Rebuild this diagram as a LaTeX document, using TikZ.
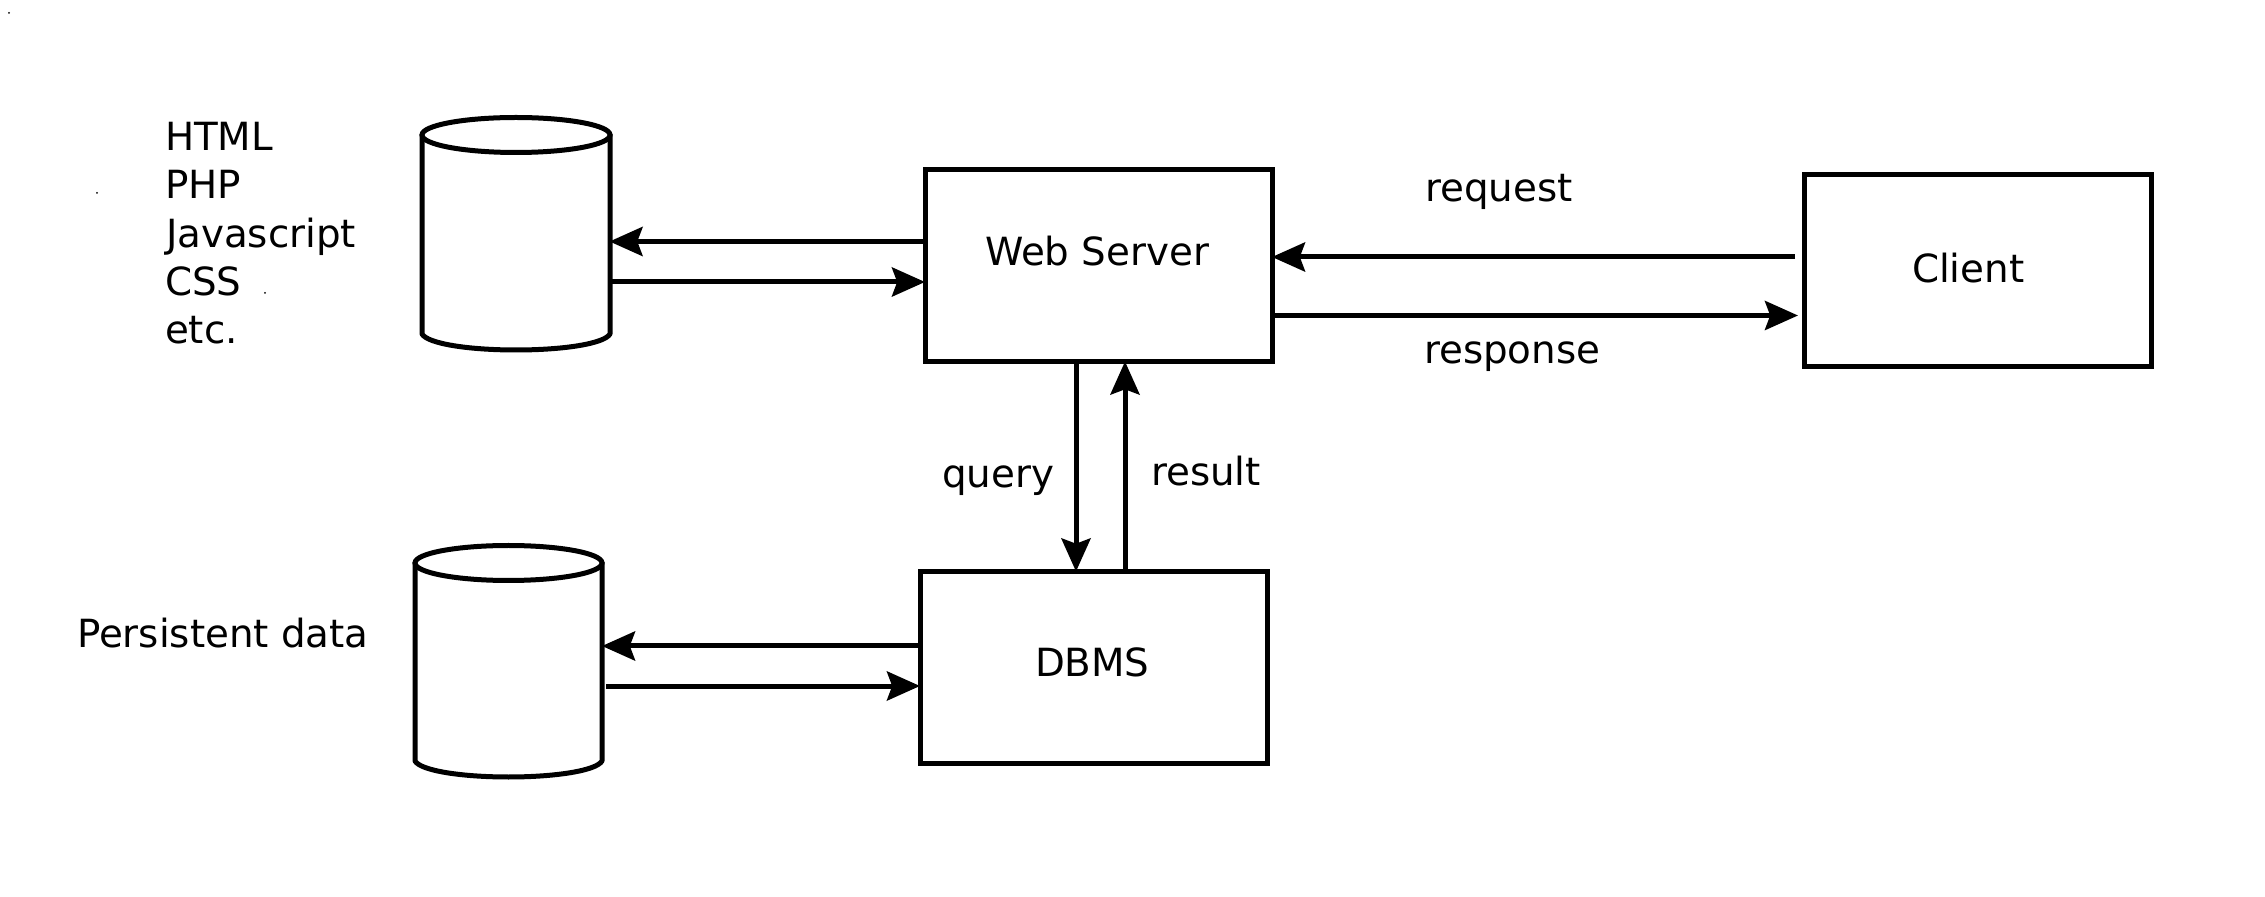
\documentclass[tikz,border=0pt]{standalone}
\usepackage{fontspec}
\setmainfont{DejaVu Sans}
\usetikzlibrary{arrows.meta}
\tikzset{
  lw/.style={line width=2.5pt,draw=black},
  boxn/.style={lw,rectangle,minimum width=173.5pt,minimum height=96pt,outer sep=0pt,inner sep=0pt},
  cylspace/.style={rectangle,minimum width=93.5pt,minimum height=116pt,outer sep=0pt,inner sep=0pt},
  arr/.style={lw,-{Stealth[length=16.5pt,width=14.5pt,inset=2.6pt]}},
  lab/.style={anchor=base west,inner sep=0pt,outer sep=0pt,font=\fontsize{19.4}{24}\selectfont},
  speck/.style={fill=black,draw=none,circle,inner sep=0pt,minimum size=1pt}
}
\begin{document}
\begin{tikzpicture}[x=0.5pt,y=-0.5pt]
\useasboundingbox (0,0) rectangle (2265,897);
% boxes
\node[boxn] (web) at (1098.5,265.5) {};
\node[boxn] (client) at (1978,271) {};
\node[boxn] (dbms) at (1093.5,667.5) {};
% cylinders
\node[cylspace] (cylA) at (516,233.5) {};
\node[cylspace] (cylB) at (508.5,661.5) {};
\draw[lw,line join=round] (422,134) -- (422,334) .. controls (428,344) and (470,350) .. (516,350) .. controls (562,350) and (604,344) .. (610,334) -- (610,134);
\draw[lw] (516,135) ellipse [x radius=94,y radius=17.5];
\draw[lw,line join=round] (415,562) -- (415,761) .. controls (421,771) and (463,777) .. (508.5,777) .. controls (554,777) and (596,771) .. (602,761) -- (602,562);
\draw[lw] (508.5,563) ellipse [x radius=93.5,y radius=17.5];
% row and column references
\coordinate (ya) at (0,241.5);
\coordinate (yb) at (0,282);
\coordinate (yc) at (0,257);
\coordinate (yd) at (0,315.5);
\coordinate (ye) at (0,646);
\coordinate (yf) at (0,686);
\coordinate (xa) at (1076,0);
\coordinate (xb) at (1125,0);
\coordinate (ca) at (1795,257);
\coordinate (cb) at (1798,315.5);
\coordinate (da) at (606,686);
% connectors
\draw[arr] (web.west |- ya) -- (cylA.east |- ya);
\draw[arr] (cylA.east |- yb) -- (web.west |- yb);
\draw[arr] (ca) -- (web.east |- yc);
\draw[arr] (web.east |- yd) -- (cb);
\draw[arr] (xa |- web.south) -- (xa |- dbms.north);
\draw[arr] (xb |- dbms.north) -- (xb |- web.south);
\draw[arr] (dbms.west |- ye) -- (cylB.east |- ye);
\draw[arr] (da) -- (dbms.west |- yf);
% texts
\node[lab] (t1) at (165,151) {HTML};
\node[lab] (t2) at (165,199) {PHP};
\node[lab] (t3) at (166,247.5) {Javascript};
\node[lab] (t4) at (165,295.5) {CSS};
\node[lab] (t5) at (165,344) {etc.};
\node[lab] (t6) at (77,647) {Persistent data};
\node[lab] (t7) at (985,265.5) {Web Server};
\node[lab] (t8) at (1912,282.5) {Client};
\node[lab] (t9) at (1035,676) {DBMS};
\node[lab] (t10) at (1425,201.5) {request};
\node[lab] (t11) at (1424,364) {response};
\node[lab] (t12) at (942,488) {query};
\node[lab] (t13) at (1151,486) {result};
% specks
\node[speck] (s1) at (9,13) {};
\node[speck] (s2) at (97,193) {};
\node[speck] (s3) at (265,293) {};
\end{tikzpicture}
\end{document}
